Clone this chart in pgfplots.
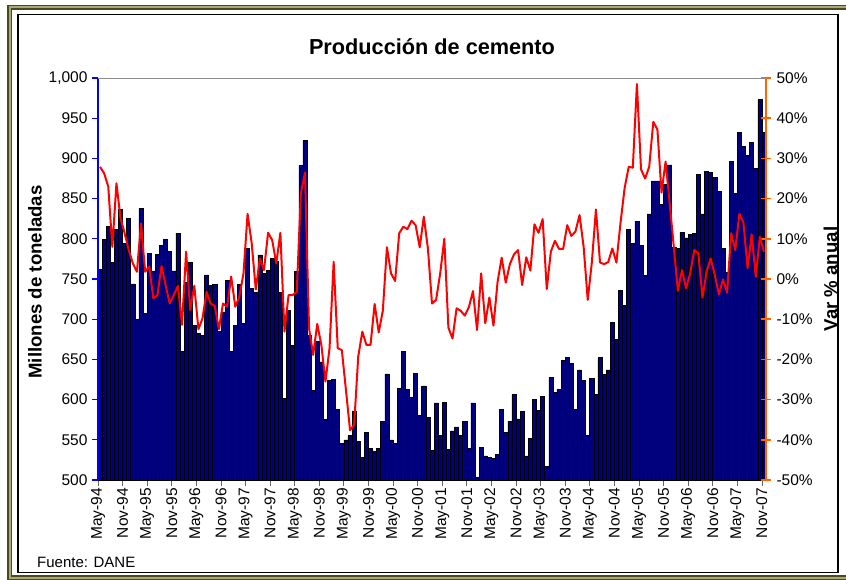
\documentclass[border=0pt]{standalone}
\usepackage{pgfplots}
\pgfplotsset{compat=1.18}
\usepackage{pgfplotstable}
\usepackage{fontspec}
\setmainfont{Liberation Sans}
\definecolor{navybar}{HTML}{000080}
\definecolor{axorange}{HTML}{FF6600}
\definecolor{olivedark}{HTML}{4A4A1A}
\definecolor{olivelight}{HTML}{A8A880}

\pgfplotstableread{
i prod var
0 762 27.9
1 799 26.3
2 815 23.0
3 771 8.0
4 812 23.8
5 837 15.1
6 794 11.4
7 825 7.2
8 744 3.9
9 700 1.8
10 838 13.8
11 707 1.8
12 782 3.1
13 760 -4.8
14 781 -4.0
15 792 3.2
16 799 -1.5
17 784 -6.1
18 760 -4.0
19 807 -1.7
20 660 -11.4
21 746 6.8
22 771 -7.7
23 692 -1.7
24 682 -12.5
25 680 -9.8
26 755 -3.2
27 742 -6.1
28 743 -6.7
29 685 -12.5
30 709 -6.1
31 748 -6.9
32 660 0.6
33 692 -6.9
34 743 -4.4
35 695 1.4
36 788 16.2
37 738 8.9
38 733 -2.6
39 780 5.1
40 757 2.2
41 761 11.5
42 776 9.7
43 772 3.9
44 733 11.5
45 601 -13.1
46 711 -4.0
47 667 -4.0
48 759 -3.2
49 891 21.3
50 922 26.5
51 680 -12.3
52 611 -18.9
53 672 -11.2
54 647 -16.4
55 575 -25.5
56 624 -17.2
57 625 4.3
58 588 -17.2
59 546 -17.7
60 550 -27.6
61 555 -37.6
62 586 -36.3
63 548 -19.3
64 528 -13.1
65 559 -16.4
66 539 -16.4
67 536 -6.2
68 539 -13.3
69 573 -7.9
70 632 7.9
71 550 1.4
72 546 -0.5
73 614 11.4
74 660 13.0
75 613 12.4
76 603 14.5
77 633 13.4
78 580 7.9
79 617 15.5
80 578 7.6
81 537 -6.1
82 596 -5.2
83 555 1.4
84 597 10.0
85 538 -12.1
86 561 -14.8
87 566 -7.3
88 555 -7.9
89 573 -9.1
90 539 -7.0
91 596 -3.0
92 503 -12.7
93 541 1.4
94 530 -11.0
95 528 -4.6
96 527 -11.6
97 532 -0.7
98 588 5.3
99 559 -0.9
100 573 3.7
101 606 6.1
102 576 7.2
103 585 -1.5
104 530 5.4
105 552 2.1
106 600 13.6
107 587 11.5
108 604 14.9
109 517 -2.5
110 628 6.8
111 609 9.5
112 613 7.5
113 649 7.5
114 652 13.4
115 645 10.7
116 588 11.8
117 637 15.9
118 624 8.0
119 555 -5.2
120 626 4.1
121 606 17.3
122 652 4.1
123 631 3.7
124 637 4.2
125 696 7.6
126 675 4.1
127 736 14.0
128 717 22.6
129 812 27.9
130 794 27.7
131 822 48.5
132 792 27.3
133 754 25.0
134 831 27.9
135 872 39.1
136 872 37.2
137 843 21.5
138 868 29.2
139 892 18.8
140 789 8.0
141 788 -2.9
142 808 2.2
143 801 -2.3
144 805 1.4
145 807 7.2
146 880 6.4
147 831 -4.6
148 884 1.8
149 883 5.1
150 876 1.0
151 859 -3.8
152 788 -0.1
153 758 -3.4
154 896 11.4
155 856 7.2
156 932 16.2
157 915 14.0
158 904 2.7
159 920 11.1
160 888 0.6
161 973 10.5
162 932 6.8
}\datatab

\begin{document}
\begin{tikzpicture}[x=1pt,y=1pt]
\useasboundingbox (0,0) rectangle (846,579);
\begin{scope}
\clip (0,0) rectangle (846,579);
\draw[olivedark, line width=5pt] (9.5,1.5) rectangle (870,571.5);
\draw[olivelight, line width=2pt] (9.5,1.5) rectangle (870,571.5);
\end{scope}
\draw[black, line width=1.2pt] (18,6.5) rectangle (838,564.5);

\begin{axis}[
  at={(98pt,99pt)}, anchor=south west, scale only axis,
  width=668pt, height=402pt,
  xmin=-0.5, xmax=162.5, ymin=500, ymax=1000,
  axis x line=bottom, axis y line=left,
  axis line style={-},
  every outer x axis line/.append style={-},
  every outer y axis line/.append style={-},
  x axis line style={black, line width=0.8pt},
  y axis line style={blue, line width=2pt},
  axis on top,
  tick align=outside,
  major tick length=6pt,
  ytick={500,550,600,650,700,750,800,850,900,950,1000},
  yticklabels={500,550,600,650,700,750,800,850,900,950,{1,000}},
  ytick style={blue, line width=1.2pt},
  xtick={-0.5,5.5,...,161.5},
  xticklabels={May-94,Nov-94,May-95,Nov-95,May-96,Nov-96,May-97,Nov-97,May-98,Nov-98,May-99,Nov-99,May-00,Nov-00,May-01,Nov-01,May-02,Nov-02,May-03,Nov-03,May-04,Nov-04,May-05,Nov-05,May-06,Nov-06,May-07,Nov-07},
  xtick style={black!60, line width=0.8pt},
  x tick label style={rotate=90, anchor=east, inner sep=2pt},
  y tick label style={xshift=-1pt},
  tick label style={font=\fontsize{15.5}{18}\selectfont},
]
\addplot[ybar, bar width=1, fill=navybar, draw=black, line width=0.6pt] table[x=i, y=prod] {\datatab};
\end{axis}

\begin{axis}[
  at={(98pt,99pt)}, anchor=south west, scale only axis,
  width=668pt, height=402pt,
  xmin=-0.5, xmax=162.5, ymin=-50, ymax=50,
  axis x line=top, axis y line=right,
  axis line style={-},
  every outer x axis line/.append style={-},
  every outer y axis line/.append style={-},
  x axis line style={black!45, line width=0.8pt},
  y axis line style={axorange, line width=2.5pt},
  xtick=\empty,
  ytick={-50,-40,-30,-20,-10,0,10,20,30,40,50},
  yticklabels={-50\%,-40\%,-30\%,-20\%,-10\%,0\%,10\%,20\%,30\%,40\%,50\%},
  tick align=center, major tick length=10pt,
  ytick style={axorange, line width=1.5pt},
  y tick label style={xshift=2pt},
  tick label style={font=\fontsize{15.5}{18}\selectfont},
]
\addplot[red, line width=2pt, line join=round] table[x=i, y=var] {\datatab};
\end{axis}

\node[anchor=base, font=\fontsize{21.7}{24}\selectfont\bfseries] at (432,524) {Producción de cemento};
\node[rotate=90, anchor=base, font=\fontsize{18.6}{21}\selectfont\bfseries] at (41.5,297) {Millones de toneladas};
\node[rotate=90, anchor=base, font=\fontsize{18.6}{21}\selectfont\bfseries] at (837,300) {Var \% anual};
\node[anchor=base west, inner sep=0pt, font=\fontsize{15}{18}\selectfont] at (37,12) {Fuente: DANE};
\end{tikzpicture}
\end{document}
